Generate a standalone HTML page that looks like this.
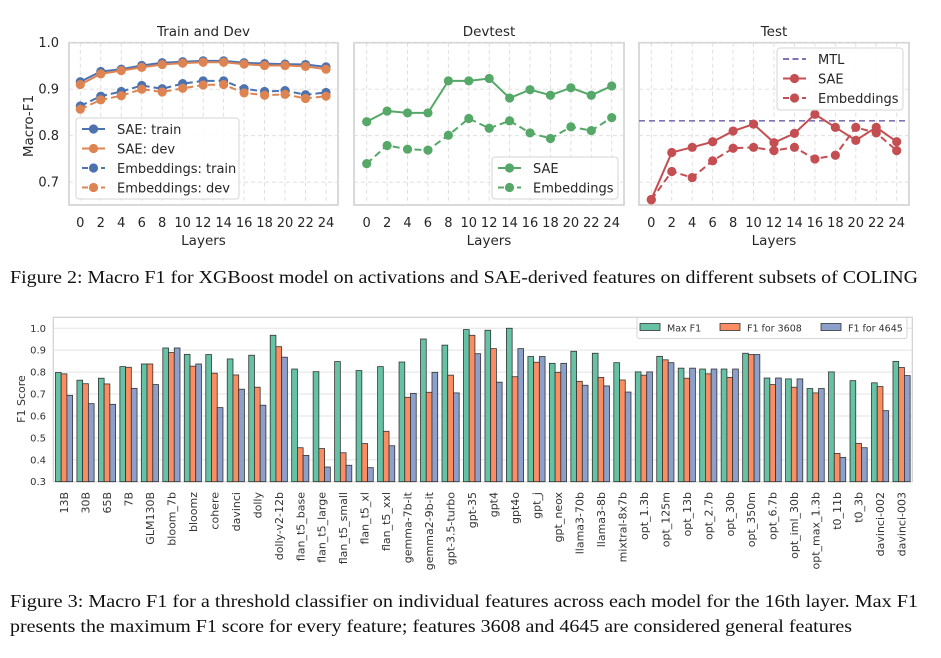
<!DOCTYPE html>
<html><head><meta charset="utf-8"><style>
html,body{margin:0;padding:0;background:#fff;}
svg{display:block;font-family:"DejaVu Sans","Liberation Sans",sans-serif;}
</style></head><body>
<svg id="fig" width="941" height="658" viewBox="0 0 941 658" xmlns="http://www.w3.org/2000/svg"></svg>
<script>
// ---- Figure 2 data ----
const layers = [0,2,4,6,8,10,12,14,16,18,20,22,24];
const saeTrain = [0.916,0.938,0.943,0.951,0.957,0.959,0.961,0.961,0.957,0.955,0.954,0.953,0.948];
const saeDev = [0.910,0.933,0.940,0.947,0.953,0.956,0.958,0.958,0.954,0.951,0.951,0.949,0.943];
const embTrain = [0.864,0.885,0.895,0.908,0.901,0.912,0.918,0.918,0.901,0.895,0.897,0.888,0.893];
const embDev = [0.857,0.877,0.886,0.900,0.894,0.902,0.909,0.910,0.892,0.887,0.889,0.880,0.885];
const devtestSAE = [0.830,0.853,0.849,0.849,0.918,0.918,0.923,0.881,0.899,0.887,0.903,0.887,0.907];
const devtestEmb = [0.740,0.779,0.771,0.769,0.801,0.837,0.816,0.832,0.806,0.794,0.819,0.811,0.839];
const testSAE = [0.663,0.764,0.775,0.787,0.810,0.825,0.785,0.805,0.846,0.818,0.790,0.818,0.787];
const testEmb = [0.662,0.723,0.710,0.746,0.773,0.775,0.768,0.775,0.750,0.758,0.818,0.806,0.768];
const mtlValue = [0.832];
const lineYTicks = [0.7,0.8,0.9,1.0];
const lineYLabels = ["0.7","0.8","0.9","1.0"];
// ---- Figure 3 data ----
const models = ["13B","30B","65B","7B","GLM130B","bloom_7b","bloomz","cohere","davinci","dolly","dolly-v2-12b","flan_t5_base","flan_t5_large","flan_t5_small","flan_t5_xl","flan_t5_xxl","gemma-7b-it","gemma2-9b-it","gpt-3.5-turbo","gpt-35","gpt4","gpt4o","gpt_j","gpt_neox","llama3-70b","llama3-8b","mixtral-8x7b","opt_1.3b","opt_125m","opt_13b","opt_2.7b","opt_30b","opt_350m","opt_6.7b","opt_iml_30b","opt_max_1.3b","t0_11b","t0_3b","davinci-002","davinci-003"];
const maxF1 = [0.798,0.763,0.772,0.825,0.837,0.910,0.881,0.880,0.860,0.877,0.968,0.814,0.802,0.848,0.807,0.825,0.846,0.951,0.923,0.994,0.991,1.0,0.871,0.840,0.895,0.886,0.843,0.801,0.872,0.818,0.814,0.814,0.886,0.773,0.769,0.725,0.801,0.761,0.751,0.849];
const f1_3608 = [0.792,0.747,0.746,0.822,0.837,0.889,0.827,0.795,0.787,0.731,0.916,0.455,0.451,0.432,0.474,0.530,0.685,0.708,0.786,0.968,0.907,0.779,0.845,0.799,0.758,0.776,0.764,0.786,0.856,0.772,0.792,0.776,0.880,0.743,0.731,0.705,0.429,0.475,0.734,0.821];
const f1_4645 = [0.694,0.656,0.653,0.726,0.743,0.910,0.837,0.638,0.722,0.649,0.868,0.420,0.367,0.375,0.364,0.464,0.703,0.799,0.705,0.884,0.754,0.907,0.871,0.840,0.740,0.737,0.709,0.801,0.843,0.818,0.814,0.814,0.880,0.773,0.769,0.725,0.411,0.455,0.624,0.784];
const barYTicks = [0.3,0.4,0.5,0.6,0.7,0.8,0.9,1.0];
const barYLabels = ["0.3","0.4","0.5","0.6","0.7","0.8","0.9","1.0"];

const NS="http://www.w3.org/2000/svg";
const svg=document.getElementById('fig');
function mk(tag,attrs,parent){const e=document.createElementNS(NS,tag);for(const k in attrs)e.setAttribute(k,attrs[k]);(parent||svg).appendChild(e);return e;}
function txt(s,attrs,parent){const e=mk('text',attrs,parent);e.textContent=s;return e;}

// ---------- line panels ----------
const yTop=42.7, yBot=205, vTop=1.0, vBot=0.651;
function ly(v){return yTop+(vTop-v)/(vTop-vBot)*(yBot-yTop);}
function drawPanel(name,bx0,bx1,x0,x24,title,showY){
  const g=mk('g',{});
  
  
  const lx=l=>x0+(l/24)*(x24-x0);
  mk('rect',{x:bx0,y:yTop,width:bx1-bx0,height:yBot-yTop,fill:'#fff',stroke:'#d0d0d0','stroke-width':1.6},g);
  layers.forEach(l=>mk('line',{x1:lx(l),x2:lx(l),y1:yTop,y2:yBot,stroke:'#dcdcdc','stroke-dasharray':'4,3','stroke-width':0.9},g));
  lineYTicks.forEach((t,i)=>{
    mk('line',{x1:bx0,x2:bx1,y1:ly(t),y2:ly(t),stroke:'#dcdcdc','stroke-dasharray':'4,3','stroke-width':0.9},g);
    if(showY){const e=txt(lineYLabels[i],{x:bx0-10,y:ly(t)+4.5,'font-size':13,'text-anchor':'end',fill:'#262626'},g);
      }
  });
  layers.forEach(l=>{const e=txt(String(l),{x:lx(l),y:227,'font-size':13,'text-anchor':'middle',fill:'#262626'},g);
    });
  const t=txt(title,{x:(bx0+bx1)/2,y:36,'font-size':13.5,'text-anchor':'middle',fill:'#262626'},g);
  
  const xl=txt('Layers',{x:(bx0+bx1)/2,y:245,'font-size':13.5,'text-anchor':'middle',fill:'#262626'},g);
  
  return {g,lx};
}
function series(p,vals,color,dashed,name){
  const g=mk('g',{},p.g);
  
  
  mk('polyline',{points:vals.map((v,i)=>p.lx(layers[i])+','+ly(v)).join(' '),fill:'none',stroke:color,'stroke-width':2,'stroke-dasharray':dashed?'7,4':'none'},g);
  vals.forEach((v,i)=>{const c=mk('circle',{cx:p.lx(layers[i]),cy:ly(v),r:4.6,fill:color},g);
    });
}
function legend(parent,x,y,w,h,entries,name){
  const g=mk('g',{},parent);
  
  
  mk('rect',{x,y,width:w,height:h,rx:3,fill:'#fff','fill-opacity':0.85,stroke:'#d6d6d6'},g);
  entries.forEach((en,i)=>{
    const cy=y+11+i*19.5;
    mk('line',{x1:x+6,x2:x+29,y1:cy,y2:cy,stroke:en.c,'stroke-width':2,'stroke-dasharray':en.d?'6,3.5':'none'},g);
    if(en.m) mk('circle',{cx:x+17.5,cy,r:4.6,fill:en.c},g);
    const e=txt(en.t,{x:x+41,y:cy+4.8,'font-size':13,fill:'#262626'},g);
    
  });
}
const BLUE='#4c72b0',ORANGE='#dd8452',GREEN='#55a868',RED='#c44e52',PURPLE='#8172b3';
const p1=drawPanel('train-dev-panel',69,338,80.3,326,'Train and Dev',true);
series(p1,embTrain,BLUE,true,'embeddings-train-line');
series(p1,embDev,ORANGE,true,'embeddings-dev-line');
series(p1,saeTrain,BLUE,false,'sae-train-line');
series(p1,saeDev,ORANGE,false,'sae-dev-line');
legend(p1.g,76,118,163,81,[{t:'SAE: train',c:BLUE,m:1},{t:'SAE: dev',c:ORANGE,m:1},{t:'Embeddings: train',c:BLUE,m:1,d:1},{t:'Embeddings: dev',c:ORANGE,m:1,d:1}],'train-dev-legend');
const yl=txt('Macro-F1',{x:0,y:0,'font-size':13.5,'text-anchor':'middle',fill:'#262626',transform:'translate(33,126) rotate(-90)'});


const p2=drawPanel('devtest-panel',354,624,366.7,611.7,'Devtest',false);
series(p2,devtestSAE,GREEN,false,'devtest-sae-line');
series(p2,devtestEmb,GREEN,true,'devtest-embeddings-line');
legend(p2.g,492,157,126,42,[{t:'SAE',c:GREEN,m:1},{t:'Embeddings',c:GREEN,m:1,d:1}],'devtest-legend');

const p3=drawPanel('test-panel',639,909,651.3,896.7,'Test',false);
const mtl=mk('line',{x1:639,x2:909,y1:ly(mtlValue[0]),y2:ly(mtlValue[0]),stroke:PURPLE,'stroke-width':1.6,'stroke-dasharray':'6,4'},p3.g);

series(p3,testEmb,RED,true,'test-embeddings-line');
series(p3,testSAE,RED,false,'test-sae-line');
legend(p3.g,777,48,126,62,[{t:'MTL',c:PURPLE,d:1},{t:'SAE',c:RED,m:1},{t:'Embeddings',c:RED,m:1,d:1}],'test-legend');

// caption 1
const c1=txt('Figure 2: Macro F1 for XGBoost model on activations and SAE-derived features on different subsets of COLING',{x:10,y:283,'font-size':17.5,'font-family':'Liberation Serif, serif',fill:'#111',textLength:908,lengthAdjust:'spacingAndGlyphs'});


// ---------- bar chart ----------
const bx0=53.3,bx1=912.3,byT=317.3,byB=481.7,bvB=0.3,bvT=1.05;
function by(v){return byB-(v-bvB)/(bvT-bvB)*(byB-byT);}
const step=(bx1-bx0)/models.length;
function bxc(i){return bx0+step*(i+0.5);}
const bg=mk('g',{});


mk('rect',{x:bx0,y:byT,width:bx1-bx0,height:byB-byT,fill:'#fff',stroke:'#d0d0d0','stroke-width':1.2},bg);
barYTicks.forEach((t,i)=>{
  mk('line',{x1:bx0,x2:bx1,y1:by(t),y2:by(t),stroke:'#e3e3e3','stroke-width':1},bg);
  const e=txt(barYLabels[i],{x:46,y:by(t)+3.5,'font-size':10,'text-anchor':'end',fill:'#333'},bg);
  
});
const yl2=txt('F1 Score',{x:0,y:0,'font-size':11,'text-anchor':'middle',fill:'#333',transform:'translate(25,399) rotate(-90)'},bg);

const barW=step*0.8/3;
const sers=[[maxF1,'#66c2a5','bar-max-f1'],[f1_3608,'#fc8d62','bar-f1-3608'],[f1_4645,'#8da0cb','bar-f1-4645']];
models.forEach((m,i)=>{
  sers.forEach((s,k)=>{
    const x=bxc(i)-1.5*barW+k*barW;
    const r=mk('rect',{x,y:by(s[0][i]),width:barW,height:byB-by(s[0][i]),fill:s[1],stroke:'#333','stroke-width':0.8},bg);
    
    
  });
  const e=txt(m,{x:0,y:0,'font-size':11,'text-anchor':'end',fill:'#333',transform:`translate(${bxc(i)+4},492) rotate(-90)`},bg);
  
});
// bar legend
const lg=mk('g',{},bg);


mk('rect',{x:637,y:317.5,width:270,height:21,rx:2,fill:'#fff',stroke:'#d6d6d6'},lg);
[['Max F1','#66c2a5',640],['F1 for 3608','#fc8d62',720],['F1 for 4645','#8da0cb',821]].forEach(l=>{
  mk('rect',{x:l[2],y:323.5,width:20,height:7,fill:l[1],stroke:'#333','stroke-width':0.8},lg);
  const e=txt(l[0],{x:l[2]+27,y:331.5,'font-size':9.5,fill:'#333'},lg);
  
});
// caption 2
const c2=txt('Figure 3: Macro F1 for a threshold classifier on individual features across each model for the 16th layer. Max F1',{x:10,y:607,'font-size':17.5,'font-family':'Liberation Serif, serif',fill:'#111',textLength:908,lengthAdjust:'spacingAndGlyphs'});

const c3=txt('presents the maximum F1 score for every feature; features 3608 and 4645 are considered general features',{x:10,y:632,'font-size':17.5,'font-family':'Liberation Serif, serif',fill:'#111',textLength:842,lengthAdjust:'spacingAndGlyphs'});

</script>
</body></html>
